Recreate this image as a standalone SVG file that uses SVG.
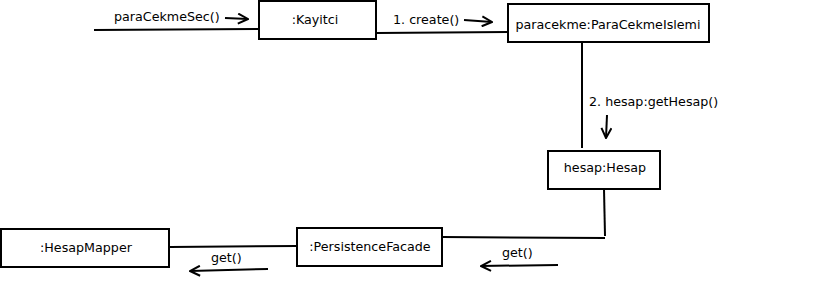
<svg xmlns="http://www.w3.org/2000/svg" width="828" height="299" viewBox="0 0 828 299">
  <style>
    .box { fill: #ffffff; stroke: #000000; stroke-width: 2; }
    .link { fill: none; stroke: #000000; stroke-width: 2; }
    .msg { fill: none; stroke: #000000; stroke-width: 2; marker-end: url(#open); }
    text { font-family: "DejaVu Sans", sans-serif; font-size: 12.7px; fill: #000000; }
    .c { text-anchor: middle; }
  </style>
  <defs>
    <marker id="open" viewBox="0 0 12 12" refX="11" refY="6" markerWidth="12" markerHeight="12" markerUnits="userSpaceOnUse" orient="auto">
      <path d="M1,1 L11,6 L1,11" fill="none" stroke="#000" stroke-width="2"/>
    </marker>
  </defs>

  <g id="connectors">
    <line class="link" x1="94" y1="30" x2="259" y2="29"/>
    <line class="link" x1="377" y1="33" x2="508" y2="32"/>
    <line class="link" x1="582" y1="43" x2="582" y2="148"/>
    <line class="link" x1="604" y1="189" x2="605" y2="236"/>
    <line class="link" x1="442" y1="237" x2="605" y2="238"/>
    <line class="link" x1="170" y1="247" x2="297" y2="246"/>

    <line class="msg" x1="225" y1="18" x2="248" y2="19"/>
    <text x="114" y="21">paraCekmeSec()</text>
    <line class="msg" x1="464" y1="20" x2="492" y2="22"/>
    <text x="393" y="24">1. create()</text>
    <line class="msg" x1="607" y1="115" x2="606" y2="138"/>
    <text x="589" y="106">2. hesap:getHesap()</text>
    <line class="msg" x1="558" y1="265" x2="481" y2="266"/>
    <text x="502" y="257">get()</text>
    <line class="msg" x1="268" y1="269" x2="190" y2="271"/>
    <text x="211" y="262">get()</text>
  </g>

  <g id="kayitci">
    <rect class="box" x="259" y="1" width="117" height="38"/>
    <text class="c" x="315" y="24">:Kayitci</text>
  </g>
  <g id="paracekme">
    <rect class="box" x="508" y="4" width="201" height="38"/>
    <text class="c" x="608" y="29">paracekme:ParaCekmeIslemi</text>
  </g>
  <g id="hesap">
    <rect class="box" x="548" y="151" width="112" height="38"/>
    <text class="c" x="605" y="172">hesap:Hesap</text>
  </g>
  <g id="persistence">
    <rect class="box" x="297" y="228" width="145" height="38"/>
    <text class="c" x="370" y="251">:PersistenceFacade</text>
  </g>
  <g id="mapper">
    <rect class="box" x="1" y="229" width="168" height="38"/>
    <text class="c" x="86" y="252">:HesapMapper</text>
  </g>
</svg>
